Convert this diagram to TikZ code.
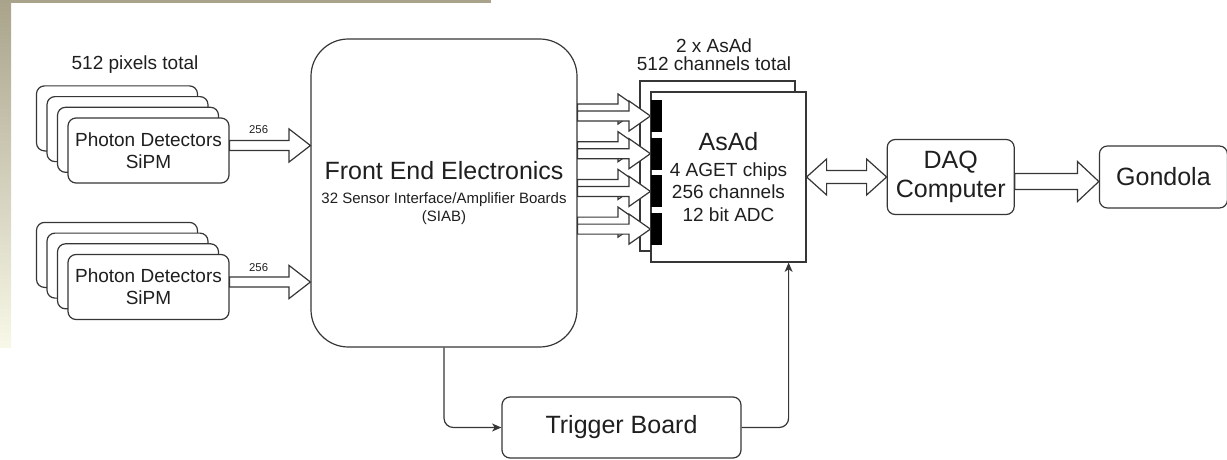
\documentclass[tikz,border=0pt]{standalone}
\usepackage{fontspec}
\setmainfont{Liberation Sans}
\usepackage{xcolor}
\usepackage{tikz}
\usetikzlibrary{positioning, arrows.meta, calc}
\definecolor{inkgray}{HTML}{363636}
\definecolor{textdark}{HTML}{1F1F1F}
\definecolor{slidetan}{HTML}{A9A38B}
\definecolor{slidecream}{HTML}{F8F8E8}

% hollow block arrow, horizontal: start, end, shaft half width, head half width
\newcommand{\fatarrow}[4]{%
  \draw[fatline] let \p1=#1, \p2=#2 in
    (\x1,\y1+#3) -- (\x2-16pt,\y1+#3) -- (\x2-16pt,\y1+#4) -- (\x2,\y1)
    -- (\x2-16pt,\y1-#4) -- (\x2-16pt,\y1-#3) -- (\x1,\y1-#3) -- cycle;}
% same with a head on both ends
\newcommand{\fatboth}[4]{%
  \draw[fatline] let \p1=#1, \p2=#2 in
    (\x1,\y1) -- (\x1+15pt,\y1+#4) -- (\x1+15pt,\y1+#3) -- (\x2-15pt,\y1+#3)
    -- (\x2-15pt,\y1+#4) -- (\x2,\y1) -- (\x2-15pt,\y1-#4) -- (\x2-15pt,\y1-#3)
    -- (\x1+15pt,\y1-#3) -- (\x1+15pt,\y1-#4) -- cycle;}

\begin{document}
\begin{tikzpicture}[x=0.75pt, y=-0.75pt, line width=0.9pt, text=textdark,
  pdbox/.style={draw=inkgray, fill=white, rounded corners=6pt, inner sep=0pt,
    minimum width=120.75pt, minimum height=48.75pt, align=center,
    font=\fontsize{14.25}{16.5}\selectfont},
  feebox/.style={draw=inkgray, fill=white, rounded corners=28pt, inner sep=0pt,
    minimum width=199.5pt, minimum height=231pt, align=center,
    font=\fontsize{11.25}{13}\selectfont},
  asadbox/.style={draw=inkgray, fill=white, inner sep=0pt,
    minimum width=116.25pt, minimum height=127.5pt, align=center,
    font=\fontsize{14.25}{17}\selectfont},
  barblk/.style={fill=black, inner sep=0pt, minimum width=8.25pt, minimum height=24pt},
  endbox/.style={draw=inkgray, fill=white, rounded corners=6pt, inner sep=0pt,
    align=center, font=\fontsize{18.75}{21.75}\selectfont},
  lbl/.style={inner sep=0pt, align=center, font=\fontsize{14.25}{14}\selectfont},
  countlbl/.style={inner sep=0pt, font=\fontsize{8.5}{9}\selectfont},
  fatline/.style={draw=inkgray, fill=white, line width=0.9pt},
  trigline/.style={draw=inkgray, line width=0.9pt, rounded corners=7pt,
    -{Stealth[length=7pt, width=6pt, inset=2pt]}}]
  \useasboundingbox (0,0) rectangle (1227,460);
  % edge of the slide in the screenshot
  \fill[slidetan] (0,0) rectangle (491,3);
  \shade[top color=slidetan, bottom color=slidecream] (0,0) rectangle (11,347);

  % photon detector stacks
  \foreach \k in {3,2,1}
    \node[pdbox] (pdA\k) at ({148.5-10.5*\k},{150.5-10.7*\k}) {};
  \node[pdbox] (pdA0) at (148.5,150.5) {Photon Detectors\\SiPM};
  \foreach \k in {3,2,1}
    \node[pdbox] (pdB\k) at ({148.5-10.5*\k},{287-10.7*\k}) {};
  \node[pdbox] (pdB0) at (148.5,287) {Photon Detectors\\SiPM};
  \node[lbl] (pixtot) at (135,65) {512 pixels total};

  \node[feebox] (fee) at (444,193)
    {{\fontsize{18.75}{18.75}\selectfont Front End Electronics}\\[5pt]
     32 Sensor Interface/Amplifier Boards\\(SIAB)};

  % two AsAd boards
  \node[asadbox] (asadB) at (717.5,166) {};
  \node[asadbox] (asadF) at (728.5,177)
    {{\fontsize{18.75}{18.75}\selectfont AsAd}\\[2.5pt]4 AGET chips\\256 channels\\12 bit ADC};
  \node[lbl, above=6.5pt of asadB, xshift=-2.6pt] (asadtot) {2 x AsAd\\512 channels total};
  \foreach \k in {1,...,4}
    \node[barblk] (bar\k) at (656.5,{116+37.7*(\k-1)}) {};

  \node[endbox, minimum width=95.25pt, minimum height=56.25pt, right=60pt of asadF] (daq) {DAQ\\Computer};
  \node[endbox, minimum width=96pt, minimum height=46.5pt, right=63pt of daq] (gond) {Gondola};
  \node[endbox, minimum width=179.25pt, minimum height=45.75pt] (trig) at (621.5,427.5) {Trigger Board};

  % detectors into the front end
  \fatarrow{([yshift=3.75pt]pdA0.east)}{(fee.west)}{3.75pt}{12.4pt}
  \fatarrow{([yshift=3.75pt]pdB0.east)}{(fee.west)}{3.75pt}{12.4pt}
  \node[countlbl] (cntA) at ($(pdA0.east)+(29,-21)$) {256};
  \node[countlbl] (cntB) at ($(pdB0.east)+(29,-19)$) {256};

  % front end into both boards
  \foreach \k in {1,...,4}
    {\fatarrow{($(bar\k.west -| fee.east)+(0,-7)$)}{(asadB.west)}{3.75pt}{11.25pt}}
  \foreach \k in {1,...,4}
    {\fatarrow{(bar\k.west -| fee.east)}{(bar\k.west)}{3.75pt}{11.25pt}}

  \fatboth{(asadF.east)}{(daq.west)}{4.9pt}{13.5pt}
  \fatarrow{([yshift=-3.4pt]daq.east)}{(gond.west)}{6pt}{15pt}

  % trigger path
  \draw[trigline] (fee.south) |- (trig.west);
  \draw[trigline] (trig.east) -| ($(asadF.south east)+(-18,0)$);
\end{tikzpicture}
\end{document}
